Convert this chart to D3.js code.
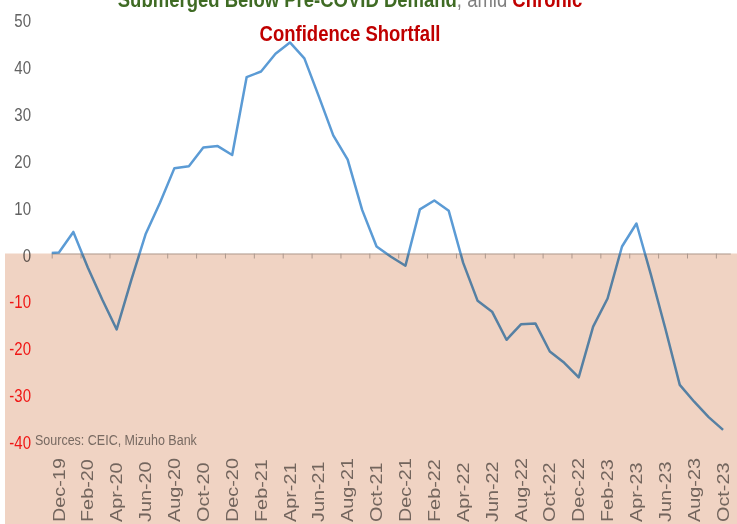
<!DOCTYPE html>
<html>
<head>
<meta charset="utf-8">
<script src="https://cdn.jsdelivr.net/npm/d3@7"></script>
<style>
  html, body { margin: 0; padding: 0; background: #fff; }
  svg { display: block; font-family: "Liberation Sans", Arial, sans-serif; }
</style>
</head>
<body>
<div id="chart"></div>
<script>
// Monthly index, Nov-19 .. Oct-23 (first point sits just outside the plot edge)
const months = [
  "Nov-19", "Dec-19",
  "Jan-20", "Feb-20", "Mar-20", "Apr-20", "May-20", "Jun-20",
  "Jul-20", "Aug-20", "Sep-20", "Oct-20", "Nov-20", "Dec-20",
  "Jan-21", "Feb-21", "Mar-21", "Apr-21", "May-21", "Jun-21",
  "Jul-21", "Aug-21", "Sep-21", "Oct-21", "Nov-21", "Dec-21",
  "Jan-22", "Feb-22", "Mar-22", "Apr-22", "May-22", "Jun-22",
  "Jul-22", "Aug-22", "Sep-22", "Oct-22", "Nov-22", "Dec-22",
  "Jan-23", "Feb-23", "Mar-23", "Apr-23", "May-23", "Jun-23",
  "Jul-23", "Aug-23", "Sep-23", "Oct-23"
];

const values = [
  0, 0.2,
  4.6, -3.0, -9.8, -16.2, -5.8, 4.1,
  10.8, 18.2, 18.6, 22.6, 22.9, 21.0,
  37.6, 38.8, 42.6, 45.0, 41.6, 33.5,
  25.2, 20.0, 9.3, 1.5, -0.7, -2.6,
  9.4, 11.3, 9.1, -2.0, -10.1, -12.4,
  -18.4, -15.1, -14.9, -20.9, -23.3, -26.4,
  -15.6, -9.6, 1.5, 6.4, -4.5, -16.0,
  -28.0, -31.6, -34.9, -37.6
];

const yTicks = [50, 40, 30, 20, 10, 0, -10, -20, -30, -40];

// every second month carries a label, starting at Dec-19
const labelMonths = months.filter((m, i) => i % 2 === 1);

const titleLine1 = ["Submerged Below Pre-COVID Demand", ", amid ", "Chronic"];
const titleLine2 = "Confidence Shortfall";
const sourceNote = "Sources: CEIC,  Mizuho Bank";

const width = 737;
const height = 524;
const SY = 1.24; // the reference text is stretched vertically

const svg = d3.select("#chart")
  .append("svg")
  .attr("width", width)
  .attr("height", height)
  .style("isolation", "isolate");

svg.append("rect")
  .attr("width", width)
  .attr("height", height)
  .attr("fill", "#ffffff");

const x = d3.scaleLinear()
  .domain([0.5, months.length - 0.5])
  .range([51.7, 730.3]);

const y = d3.scaleLinear()
  .domain([-40, 50])
  .range([441.1, 19]);

function stretch(sel, px, py, rot) {
  sel.attr("transform",
    `translate(${px},${py}) scale(1,${SY})` + (rot ? ` rotate(${rot})` : ""));
  return sel;
}

// y labels (no axis line in the reference)
yTicks.forEach((v) => {
  svg.append("text")
    .call(stretch, 31, y(v) + 1.5)
    .attr("dy", "0.35em")
    .attr("text-anchor", "end")
    .attr("font-size", 15)
    .attr("fill", v < 0 ? "#ff1a1a" : "#626262")
    .text(v);
});

// zero axis with tick marks between categories
const xAxis = d3.axisBottom(x)
  .tickValues(labelMonths.map((m) => months.indexOf(m) - 0.5))
  .tickSizeInner(5)
  .tickSizeOuter(0)
  .tickFormat("");

svg.append("g")
  .attr("transform", `translate(0,${y(0)})`)
  .call(xAxis)
  .call((g) => g.select(".domain").attr("stroke", "#d0d0d0").attr("stroke-width", 1.5))
  .call((g) => g.selectAll(".tick line").attr("stroke", "#b8b8b8"));

// x labels, rotated
labelMonths.forEach((m) => {
  svg.append("text")
    .call(stretch, x(months.indexOf(m)), 522, -90)
    .attr("dy", "0.35em")
    .attr("text-anchor", "start")
    .attr("font-size", 16)
    .attr("fill", "#7a7a7a")
    .text(m);
});

svg.append("text")
  .call(stretch, 35, 445)
  .attr("font-size", 12.5)
  .attr("fill", "#808080")
  .text(sourceNote);

// series line
svg.append("clipPath")
  .attr("id", "plot-clip")
  .append("rect")
  .attr("x", x.range()[0])
  .attr("y", 0)
  .attr("width", x.range()[1] - x.range()[0])
  .attr("height", height);

const line = d3.line()
  .x((d, i) => x(i))
  .y((d) => y(d));

svg.append("path")
  .datum(values)
  .attr("clip-path", "url(#plot-clip)")
  .attr("d", line)
  .attr("fill", "none")
  .attr("stroke", "#5b9bd5")
  .attr("stroke-width", 2.5)
  .attr("stroke-linejoin", "round");

// shaded negative zone laid over everything
svg.append("rect")
  .attr("x", 5)
  .attr("y", y(0))
  .attr("width", width - 5)
  .attr("height", height - y(0))
  .attr("fill", "rgb(240,211,195)")
  .style("mix-blend-mode", "multiply");

// title
const t1 = svg.append("text")
  .call(stretch, 350, 7)
  .attr("text-anchor", "middle")
  .attr("font-size", 18.5);

t1.append("tspan").attr("font-weight", 700).attr("fill", "#3f6b24").text(titleLine1[0]);
t1.append("tspan").attr("fill", "#808080").text(titleLine1[1]);
t1.append("tspan").attr("font-weight", 700).attr("fill", "#c00000").text(titleLine1[2]);

svg.append("text")
  .call(stretch, 350, 41)
  .attr("text-anchor", "middle")
  .attr("font-size", 18.5)
  .attr("font-weight", 700)
  .attr("fill", "#c00000")
  .text(titleLine2);
</script>
</body>
</html>
